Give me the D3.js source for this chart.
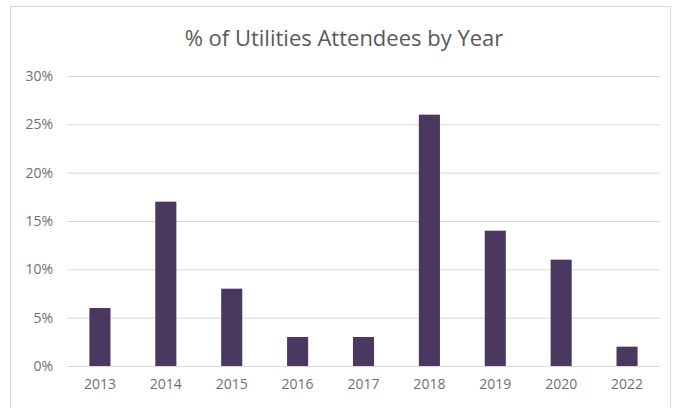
<!DOCTYPE html>
<html>
<head>
<meta charset="utf-8">
<script src="https://cdn.jsdelivr.net/npm/d3@7"></script>
<style>
  body { margin: 0; background: #fff; }
  svg { display: block; font-family: 'Open Sans', sans-serif; }
</style>
</head>
<body>
<svg id="chart"></svg>
<script>
const years = ['2013', '2014', '2015', '2016', '2017', '2018', '2019', '2020', '2022']
const percents = [6, 17, 8, 3, 3, 26, 14, 11, 2]
const yTicks = [0, 5, 10, 15, 20, 25, 30]

const width = 681
const height = 408
const margin = {top: 76, right: 21, bottom: 42, left: 67}

const svg = d3.select('#chart')
    .attr('width', width)
    .attr('height', height)

// chart area border
svg.append('rect')
    .attr('x', 10.5)
    .attr('y', 6.5)
    .attr('width', 660)
    .attr('height', 410)
    .attr('fill', '#fff')
    .attr('stroke', '#d9d9d9')

svg.append('text')
    .attr('x', 344)
    .attr('y', 46)
    .attr('text-anchor', 'middle')
    .attr('font-size', 22)
    .attr('fill', '#595959')
    .text('% of Utilities Attendees by Year')

const x = d3.scaleBand()
    .domain(years)
    .range([margin.left, width - margin.right])
    .padding(0)

const y = d3.scaleLinear()
    .domain([0, 30])
    .range([height - margin.bottom, margin.top])

const yAxis = svg.append('g')
    .attr('transform', 'translate(' + margin.left + ',0)')
    .call(d3.axisLeft(y)
        .tickValues(yTicks)
        .tickSize(-(width - margin.left - margin.right))
        .tickPadding(14)
        .tickFormat(d => d + '%'))
yAxis.select('.domain').remove()
yAxis.selectAll('.tick line').attr('stroke', '#d9d9d9')
yAxis.selectAll('.tick text')
    .attr('fill', '#707070')
    .attr('font-size', 14)
    .attr('font-family', "'Open Sans', sans-serif")

const barWidth = x.bandwidth() * 0.32
svg.append('g')
    .selectAll('rect')
    .data(percents)
    .enter()
    .append('rect')
    .attr('x', (d, i) => x(years[i]) + (x.bandwidth() - barWidth) / 2)
    .attr('y', d => y(d))
    .attr('width', barWidth)
    .attr('height', d => y(0) - y(d))
    .attr('fill', '#4a3861')

const xAxis = svg.append('g')
    .attr('transform', 'translate(0,' + (height - margin.bottom) + ')')
    .call(d3.axisBottom(x).tickSize(0).tickPadding(13))
xAxis.select('.domain').attr('stroke', '#d9d9d9')
xAxis.selectAll('.tick text')
    .attr('fill', '#707070')
    .attr('font-size', 14)
    .attr('font-family', "'Open Sans', sans-serif")
</script>
</body>
</html>
